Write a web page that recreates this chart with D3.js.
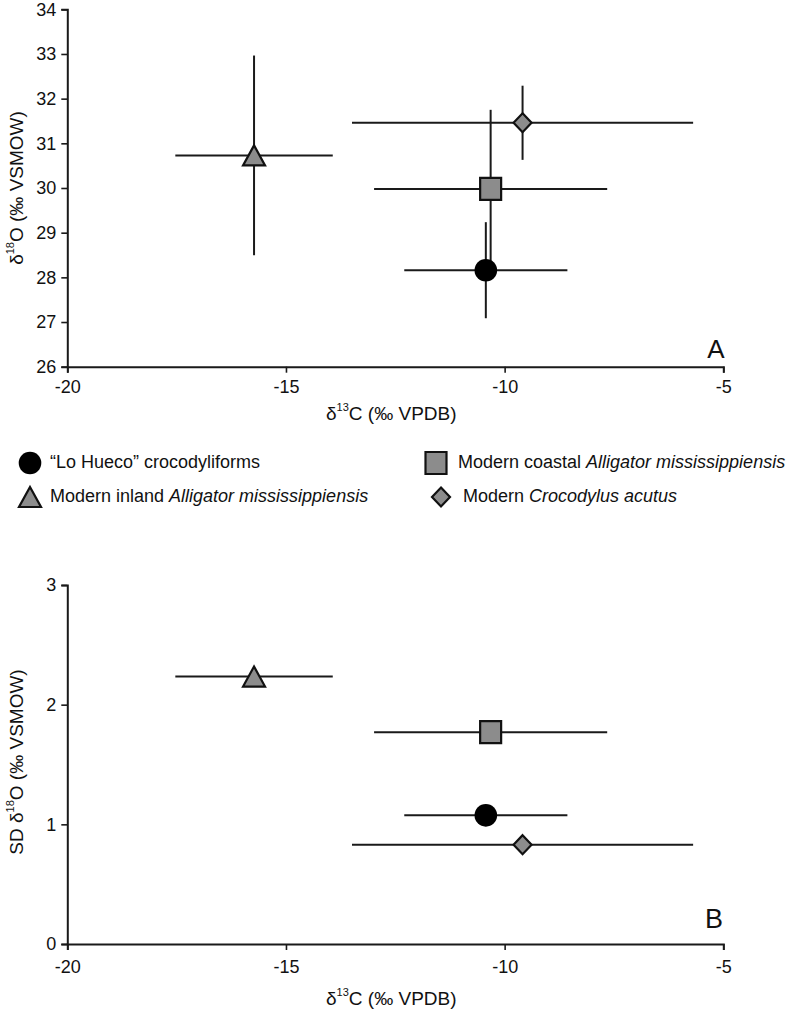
<!DOCTYPE html>
<html>
<head>
<meta charset="utf-8">
<script src="https://cdn.jsdelivr.net/npm/d3@7/dist/d3.min.js"></script>
<style>
  html, body { margin: 0; padding: 0; background: #fff; }
  svg { display: block; font-family: "Liberation Sans", Arial, sans-serif; }
</style>
</head>
<body>
<svg id="chart" width="799" height="1014"></svg>
<script>
// ---- data ----
const groups = ["\u201CLo Hueco\u201D crocodyliforms", "Modern coastal Alligator mississippiensis",
                "Modern inland Alligator mississippiensis", "Modern Crocodylus acutus"];
const shapes = ["circle", "square", "triangle", "diamond"];
const d13C    = [-10.43, -10.32, -15.73, -9.59];   // mean δ13C
const d13C_sd = [1.865, 2.665, 1.80, 3.90];        // SD δ13C
const d18O    = [28.16, 29.98, 30.73, 31.46];      // mean δ18O
const d18O_sd = [1.075, 1.77, 2.235, 0.83];        // SD δ18O
const xTicks  = [-20, -15, -10, -5];
const yTicksA = [26, 27, 28, 29, 30, 31, 32, 33, 34];
const yTicksB = [0, 1, 2, 3];
const panelLabels = ["A", "B"];

// ---- styles ----
const lineColor = "#1a1a1a";
const grayFill = "#8c8c8c";
const fills = { circle: "#000", square: grayFill, triangle: grayFill, diamond: grayFill };

const svg = d3.select("#chart");

const x = d3.scaleLinear().domain([-20, -5]).range([67.3, 723.3]);
const yA = d3.scaleLinear().domain([26, 34]).range([366.7, 9.3]);
const yB = d3.scaleLinear().domain([0, 3]).range([944, 585]);

const fmt = d => String(d); // plain hyphen-minus as in the original

function shapePath(shape) {
  if (shape === "circle") { const r = 11.3; return `M${-r},0A${r},${r} 0 1,0 ${r},0A${r},${r} 0 1,0 ${-r},0Z`; }
  if (shape === "square") { const w = 21, h = 22; return `M${-w/2},${-h/2}H${w/2}V${h/2}H${-w/2}Z`; }
  if (shape === "triangle") { const w = 22, h = 20; return `M0,${-h/2}L${w/2},${h/2}L${-w/2},${h/2}Z`; }
  const w = 18, h = 19; return `M0,${-h/2}L${w/2},0L0,${h/2}L${-w/2},0Z`;
}

function drawMarker(g, shape, cx, cy) {
  g.append("path")
    .attr("d", shapePath(shape))
    .attr("transform", `translate(${cx},${cy})`)
    .attr("fill", fills[shape])
    .attr("stroke", shape === "circle" ? "none" : "#111")
    .attr("stroke-width", 2.2);
}

function styleAxis(g) {
  g.selectAll(".domain").attr("stroke", lineColor).attr("stroke-width", 2);
  g.selectAll(".tick line").attr("stroke", lineColor).attr("stroke-width", 1.6);
  g.selectAll(".tick text").attr("fill", "#111").style("font-size", "18px")
    .style("font-family", "'Liberation Sans', Arial, sans-serif");
}

function drawAxes(y, yTicks, yBase, xLabelY, titleY, yTitlePrefix, yTitleCenter) {
  const gx = svg.append("g").attr("transform", `translate(0,${yBase})`)
    .call(d3.axisBottom(x).tickValues(xTicks).tickSize(6).tickPadding(5).tickFormat(fmt));
  styleAxis(gx);
  gx.selectAll(".tick text").attr("dy", null)
    .attr("y", xLabelY - yBase).attr("dominant-baseline", "middle");
  const gy = svg.append("g").attr("transform", `translate(${x(-20)},0)`)
    .call(d3.axisLeft(y).tickValues(yTicks).tickSize(6).tickPadding(5).tickFormat(fmt));
  styleAxis(gy);

  // x title: δ13C (‰ VPDB)
  const xt = svg.append("text").attr("x", (x(-20) + x(-5)) / 2 - 4).attr("y", titleY)
    .attr("text-anchor", "middle").attr("dominant-baseline", "middle")
    .style("font-size", "19px").attr("fill", "#111");
  xt.append("tspan").text("\u03B4");
  xt.append("tspan").text("13").style("font-size", "11px").attr("dy", -7);
  xt.append("tspan").text("C (\u2030 VPDB)").attr("dy", 7);

  // y title
  const yt = svg.append("text")
    .attr("transform", `translate(18,${yTitleCenter}) rotate(-90)`)
    .attr("text-anchor", "middle").attr("dominant-baseline", "middle")
    .style("font-size", "19px").attr("fill", "#111");
  yt.append("tspan").text(yTitlePrefix);
  yt.append("tspan").text("18").style("font-size", "11px").attr("dy", -7);
  yt.append("tspan").text("O (\u2030 VSMOW)").attr("dy", 7);
}

// ---- Panel A ----
drawAxes(yA, yTicksA, yA(26), 388, 415, "\u03B4", 188);
const gA = svg.append("g");
shapes.forEach((s, i) => {
  gA.append("line")
    .attr("x1", x(d13C[i] - d13C_sd[i])).attr("x2", x(d13C[i] + d13C_sd[i]))
    .attr("y1", yA(d18O[i])).attr("y2", yA(d18O[i]))
    .attr("stroke", lineColor).attr("stroke-width", 2);
  gA.append("line")
    .attr("x1", x(d13C[i])).attr("x2", x(d13C[i]))
    .attr("y1", yA(d18O[i] - d18O_sd[i])).attr("y2", yA(d18O[i] + d18O_sd[i]))
    .attr("stroke", lineColor).attr("stroke-width", 2);
});
shapes.forEach((s, i) => drawMarker(gA, s, x(d13C[i]), yA(d18O[i])));
svg.append("text").attr("x", 716).attr("y", 358).attr("text-anchor", "middle")
  .style("font-size", "26px").attr("fill", "#111").text(panelLabels[0]);

// ---- Legend ----
const legendPos = [
  { mx: 30, tx: 50, y: 463 },
  { mx: 436, tx: 458, y: 463 },
  { mx: 30, tx: 50, y: 497 },
  { mx: 441, tx: 463, y: 497 }
];
const gL = svg.append("g");
groups.forEach((name, i) => {
  const p = legendPos[i];
  drawMarker(gL, shapes[i], p.mx, p.y);
  const t = gL.append("text").attr("x", p.tx).attr("y", p.y).attr("dominant-baseline", "middle")
    .style("font-size", "18px").attr("fill", "#111");
  const m = name.match(/^(.*?)(Alligator mississippiensis|Crocodylus acutus)$/);
  if (m) {
    t.append("tspan").text(m[1]);
    t.append("tspan").text(m[2]).style("font-style", "italic");
  } else {
    t.text(name);
  }
});

// ---- Panel B ----
drawAxes(yB, yTicksB, yB(0), 968, 1000, "SD \u03B4", 762);
const gB = svg.append("g");
shapes.forEach((s, i) => {
  gB.append("line")
    .attr("x1", x(d13C[i] - d13C_sd[i])).attr("x2", x(d13C[i] + d13C_sd[i]))
    .attr("y1", yB(d18O_sd[i])).attr("y2", yB(d18O_sd[i]))
    .attr("stroke", lineColor).attr("stroke-width", 2);
});
shapes.forEach((s, i) => drawMarker(gB, s, x(d13C[i]), yB(d18O_sd[i])));
svg.append("text").attr("x", 714).attr("y", 928).attr("text-anchor", "middle")
  .style("font-size", "27px").attr("fill", "#111").text(panelLabels[1]);
</script>
</body>
</html>
